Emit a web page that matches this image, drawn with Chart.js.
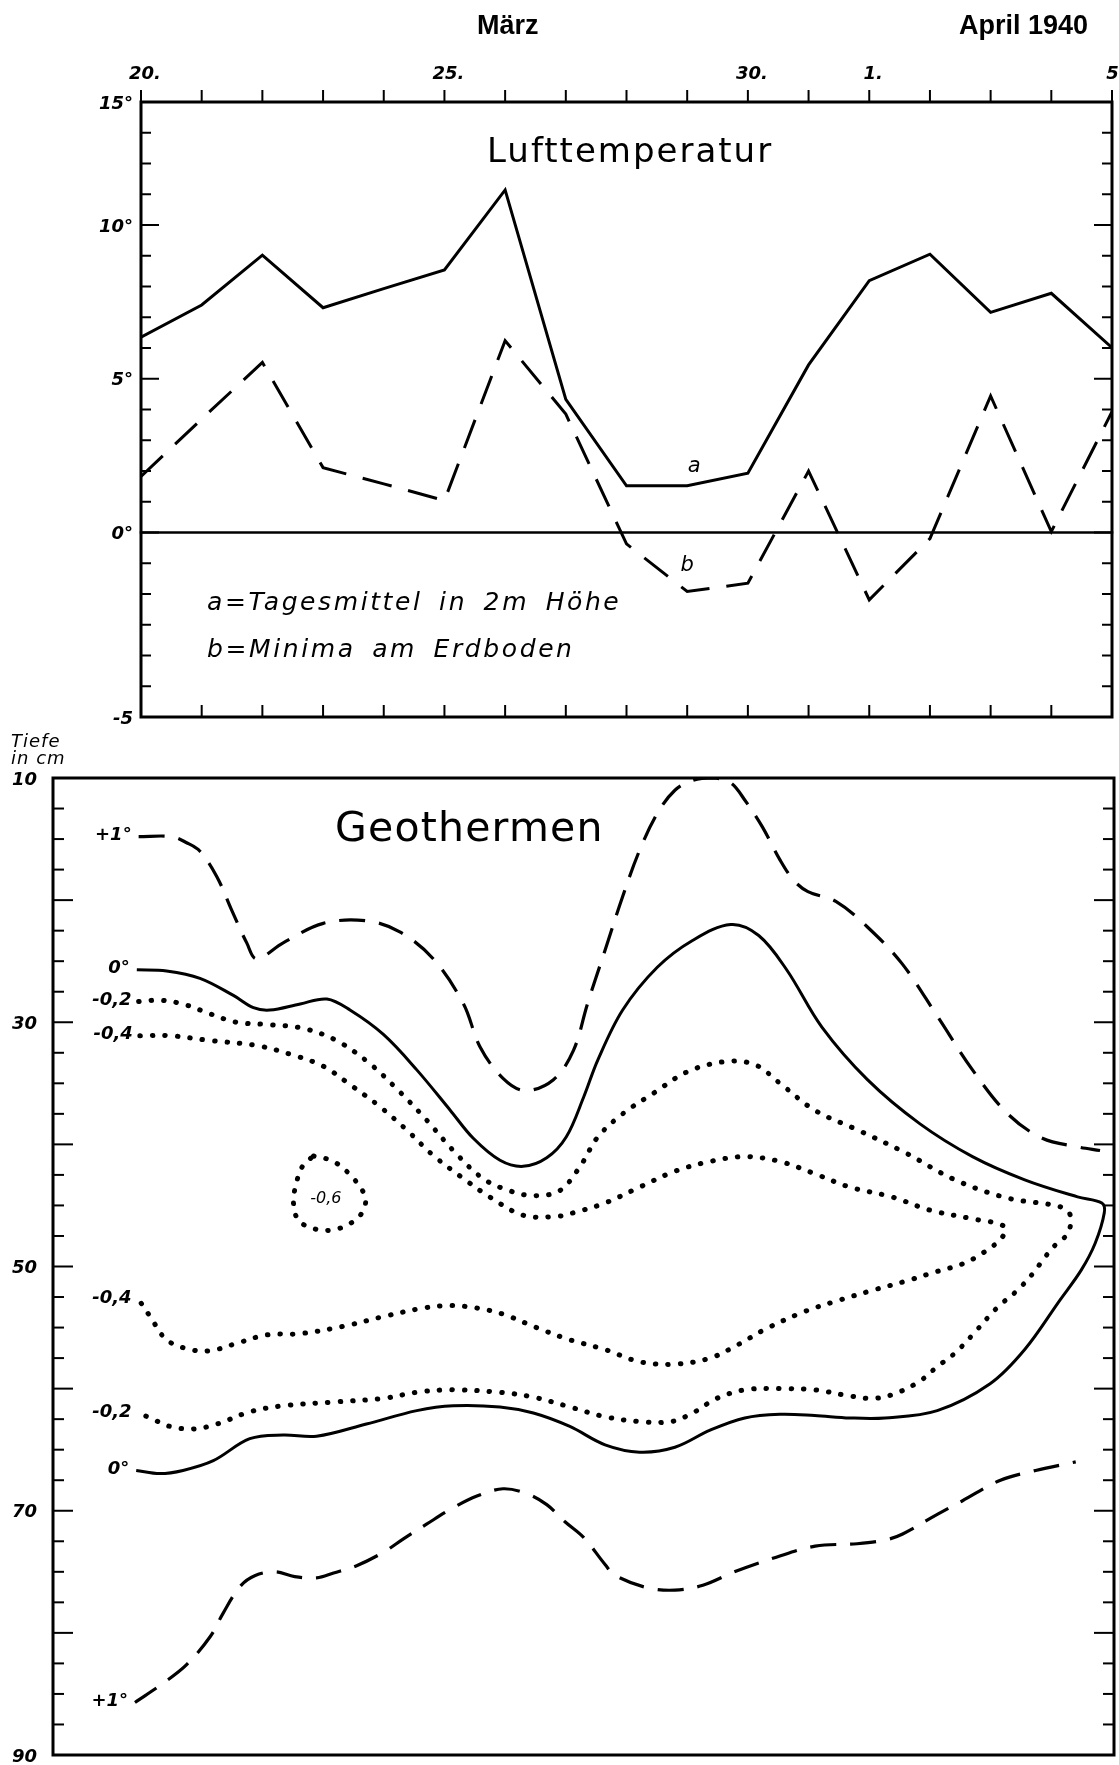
<!DOCTYPE html>
<html lang="de">
<head>
<meta charset="utf-8">
<title>Lufttemperatur und Geothermen, März/April 1940</title>
<script src="https://cdn.jsdelivr.net/npm/chart.js@4.4.1/dist/chart.umd.min.js"></script>
<style>
  html, body { margin: 0; background: #fff; }
  #page { position: relative; width: 1119px; height: 1765px; overflow: hidden; }
  canvas { position: absolute; left: 0; }
  #air { top: 0; }
  #soil { top: 730px; }
  .txt { position: absolute; white-space: nowrap; line-height: 1; color: #000;
         font-family: "DejaVu Sans", sans-serif; z-index: 2; }
  .head { font-family: "Liberation Sans", Arial, sans-serif; font-weight: bold; font-size: 27px; top: 12px; }
  .title { font-size: 34px; letter-spacing: 2px; }
  .legend { font-style: italic; font-size: 25px; letter-spacing: 2.6px; word-spacing: 6px; }
  .unit { font-style: italic; font-size: 18px; letter-spacing: 1px; }
</style>
</head>
<body>
<div id="page">
  <canvas id="air" width="1119" height="740"></canvas>
  <canvas id="soil" width="1119" height="1035"></canvas>

  <div class="txt head" style="left:477px">März</div>
  <div class="txt head" style="left:959px">April 1940</div>
  <div class="txt title" style="left:487px; top:133px">Lufttemperatur</div>
  <div class="txt legend" style="left:207px; top:589px">a=Tagesmittel in 2m Höhe</div>
  <div class="txt legend" style="left:207px; top:636px">b=Minima am Erdboden</div>
  <div class="txt unit" style="left:11px; top:732px">Tiefe</div>
  <div class="txt unit" style="left:11px; top:749px">in cm</div>
  <div class="txt title" style="left:335px; top:807px; font-size:41px; letter-spacing:1.2px">Geothermen</div>
</div>

<script>
// Tage: 20 = 20. März ... 31 = 31. März, 32 = 1. April ... 36 = 5. April
const days = [20, 21, 22, 23, 24, 25, 26, 27, 28, 29, 30, 31, 32, 33, 34, 35, 36];
const dayLabelValues = [20, 25, 30, 32, 36];
const dayLabelTexts = ['20.', '25.', '30.', '1.', '5.'];

// Lufttemperatur in °C
const tagesmittel = [6.35, 7.40, 9.02, 7.31, 7.93, 8.54, 11.14, 4.33, 1.52, 1.52, 1.93, 5.45, 8.19, 9.05, 7.16, 7.78, 6.01];
const minimaErdboden = [1.82, 3.69, 5.53, 2.11, 1.58, 1.04, 6.24, 3.85, -0.37, -1.92, -1.65, 2.0, -2.19, -0.2, 4.44, 0.03, 3.93];

const tempTicks = [-6, -5, -4, -3, -2, -1, 0, 1, 2, 3, 4, 5, 6, 7, 8, 9, 10, 11, 12, 13, 14];
const tempMajor = [0, 5, 10];
const tempLabelValues = [14, 10, 5, 0, -6];
const tempLabelTexts = ['15°', '10°', '5°', '0°', '-5'];

// Tiefe in cm
const depthTicks = [10, 12.5, 15, 17.5, 20, 22.5, 25, 27.5, 30, 32.5, 35, 37.5, 40, 42.5, 45, 47.5, 50,
  52.5, 55, 57.5, 60, 62.5, 65, 67.5, 70, 72.5, 75, 77.5, 80, 82.5, 85, 87.5, 90];
const depthMajor = [20, 30, 40, 50, 60, 70, 80];
const depthLabelValues = [10, 30, 50, 70, 90];
const depthLabelTexts = ['10', '30', '50', '70', '90'];

// Geothermen: [Tag, Tiefe]
const isoPlus1Upper = [[19.96, 14.8], [20.5, 14.8], [20.75, 15.3], [20.97, 16.0], [21.25, 18.1], [21.49, 20.8],
  [21.74, 23.5], [21.9, 24.8], [22.34, 23.5], [23.0, 21.9], [23.72, 21.7], [24.26, 22.6], [24.81, 24.8],
  [25.31, 28.5], [25.58, 32.0], [25.96, 34.6], [26.32, 35.6], [26.79, 34.7], [27.12, 32.3], [27.35, 28.5],
  [27.64, 24.1], [27.93, 19.7], [28.21, 15.9], [28.5, 12.9], [28.79, 11.0], [29.08, 10.2], [29.42, 10.0],
  [29.71, 10.4], [29.94, 11.8], [30.23, 14.0], [30.52, 16.7], [30.75, 18.4], [30.98, 19.3], [31.44, 20.1],
  [31.96, 22.2], [32.53, 25.2], [33.11, 29.5], [33.69, 33.9], [34.27, 37.5], [34.84, 39.5], [35.42, 40.2],
  [35.79, 40.5]];
const isoZero = [[19.93, 25.7], [20.42, 25.8], [20.97, 26.4], [21.52, 27.8], [21.85, 28.8], [22.12, 29.0],
  [22.62, 28.5], [23.06, 28.1], [23.44, 29.0], [23.99, 31.0], [24.54, 33.9], [25.09, 37.2], [25.47, 39.5],
  [25.91, 41.3], [26.29, 41.8], [26.68, 41.1], [27.0, 39.4], [27.29, 36.1], [27.52, 33.1], [27.93, 29.0],
  [28.5, 25.5], [29.08, 23.3], [29.71, 22.0], [30.17, 22.9], [30.63, 25.7], [31.21, 30.4], [31.96, 34.7],
  [32.82, 38.3], [33.69, 41.0], [34.55, 42.9], [35.42, 44.3], [35.82, 44.8], [35.86, 45.6], [35.71, 48.1],
  [35.48, 50.3], [35.13, 52.75], [34.55, 56.8], [33.98, 59.6], [33.11, 61.8], [32.25, 62.4], [31.67, 62.4],
  [31.09, 62.2], [30.52, 62.1], [29.94, 62.4], [29.37, 63.4], [28.79, 64.8], [28.21, 65.2], [27.64, 64.6],
  [27.06, 63.1], [26.46, 62.0], [25.91, 61.5], [25.14, 61.4], [24.54, 61.8], [23.71, 62.9], [22.89, 63.9],
  [22.34, 63.8], [21.79, 64.1], [21.19, 65.9], [20.69, 66.7], [20.31, 66.96], [19.92, 66.7]];
const isoMinus02 = [[19.96, 28.3], [20.34, 28.2], [20.75, 28.6], [21.13, 29.3], [21.57, 30.0], [22.12, 30.2],
  [22.67, 30.5], [23.22, 31.5], [23.77, 33.4], [24.26, 35.7], [24.7, 38.0], [25.14, 40.5], [25.63, 42.8],
  [26.07, 43.8], [26.46, 44.2], [26.89, 43.8], [27.23, 41.8], [27.52, 39.4], [27.93, 37.5], [28.44, 35.8],
  [29.02, 34.0], [29.66, 33.2], [30.12, 33.5], [30.52, 35.0], [31.09, 37.2], [31.79, 38.8], [32.59, 40.7],
  [33.4, 42.9], [34.27, 44.4], [35.13, 45.1], [35.3, 45.8], [35.26, 47.3], [35.08, 48.1], [34.84, 49.5],
  [34.73, 50.3], [34.44, 51.9], [34.09, 53.4], [33.69, 55.6], [33.4, 57.1], [33.11, 58.2], [32.82, 59.4],
  [32.42, 60.4], [32.07, 60.8], [31.67, 60.6], [31.09, 60.1], [30.52, 60.0], [29.94, 60.1], [29.48, 60.8],
  [29.08, 62.0], [28.73, 62.7], [28.21, 62.7], [27.64, 62.3], [27.06, 61.5], [26.46, 60.7], [25.91, 60.3],
  [25.09, 60.1], [24.54, 60.3], [23.99, 60.8], [23.17, 61.1], [22.34, 61.4], [21.79, 61.9], [21.25, 62.9],
  [20.86, 63.3], [20.48, 63.1], [20.15, 62.4], [19.96, 62.0]];
const isoMinus04 = [[19.98, 31.1], [20.48, 31.1], [21.14, 31.5], [21.9, 31.9], [22.51, 32.7], [23.0, 33.6],
  [23.44, 35.1], [23.93, 36.9], [24.37, 38.8], [24.81, 40.9], [25.31, 42.8], [25.74, 44.3], [26.29, 45.8],
  [26.84, 45.9], [27.12, 45.6], [27.64, 44.8], [28.21, 43.5], [28.79, 42.2], [29.37, 41.4], [29.94, 41.0],
  [30.52, 41.4], [31.09, 42.4], [31.67, 43.5], [32.36, 44.3], [33.0, 45.4], [33.69, 46.1], [34.21, 46.7],
  [34.18, 47.6], [33.86, 48.9], [33.52, 49.8], [33.11, 50.4], [32.59, 51.2], [32.08, 51.9], [31.5, 52.75],
  [30.92, 53.7], [30.29, 55.1], [29.83, 56.4], [29.37, 57.5], [28.79, 58.0], [28.21, 57.8], [27.64, 56.8],
  [27.06, 56.0], [26.51, 55.0], [25.96, 53.9], [25.53, 53.4], [25.09, 53.2], [24.65, 53.4], [23.99, 54.1],
  [23.33, 54.9], [22.62, 55.5], [22.07, 55.6], [21.57, 56.3], [21.14, 56.9], [20.81, 56.8], [20.42, 56.0],
  [20.15, 54.1], [19.96, 52.7]];
const isoMinus06 = [[22.84, 40.95], [23.17, 41.4], [23.5, 42.8], [23.69, 44.3], [23.66, 45.4], [23.5, 46.3],
  [23.17, 47.0], [22.84, 46.9], [22.59, 46.2], [22.51, 44.8], [22.56, 43.1], [22.67, 41.7], [22.84, 40.95]];
const isoPlus1Lower = [[19.9, 85.7], [20.37, 84.1], [20.75, 82.6], [21.14, 80.3], [21.35, 78.4], [21.63, 76.2],
  [21.88, 75.3], [22.21, 75.0], [22.53, 75.4], [22.89, 75.5], [23.17, 75.1], [23.55, 74.5], [23.99, 73.4],
  [24.32, 72.3], [24.7, 71.1], [25.09, 69.9], [25.53, 68.8], [25.96, 68.2], [26.35, 68.6], [26.68, 69.5],
  [26.98, 70.9], [27.29, 72.2], [27.64, 74.4], [27.81, 75.3], [28.33, 76.3], [28.79, 76.5], [29.25, 76.1],
  [29.77, 75.0], [30.46, 73.8], [31.1, 72.9], [31.79, 72.7], [32.25, 72.4], [32.54, 71.9], [33.11, 70.3],
  [33.52, 69.2], [34.15, 67.5], [34.73, 66.7], [35.39, 66.0]];

const ITALIC = '"DejaVu Sans", sans-serif';

// frame, inward/outward tick marks and tick labels, all placed through the chart scales
const frameAxes = {
  id: 'frameAxes',
  afterDatasetsDraw(chart, args, o) {
    const { ctx, chartArea: a, scales: { x, y } } = chart;
    const line = (x1, y1, x2, y2) => { ctx.beginPath(); ctx.moveTo(x1, y1); ctx.lineTo(x2, y2); ctx.stroke(); };
    ctx.save();
    ctx.strokeStyle = '#000';
    ctx.fillStyle = '#000';
    ctx.lineCap = 'square';

    if (o.zeroLine) {
      ctx.lineWidth = 2.5;
      const py = y.getPixelForValue(0);
      line(a.left, py, a.right, py);
    }

    ctx.lineWidth = 3;
    ctx.strokeRect(a.left, a.top, a.right - a.left, a.bottom - a.top);

    ctx.lineWidth = 2;
    ctx.lineCap = 'butt';
    (o.xTicks || []).forEach(v => {
      const px = x.getPixelForValue(v);
      line(px, a.top, px, a.top - 12);
      line(px, a.bottom, px, a.bottom - 12);
    });
    (o.yTicks || []).forEach(v => {
      const py = y.getPixelForValue(v);
      const len = o.yMajor.includes(v) ? o.majorLen : o.minorLen;
      line(a.left, py, a.left + len, py);
      line(a.right, py, a.right - len, py);
    });

    if (o.xLabels) {
      ctx.font = 'italic bold 18px ' + ITALIC;
      ctx.textAlign = 'center';
      ctx.textBaseline = 'alphabetic';
      o.xLabels.values.forEach((v, i) => ctx.fillText(o.xLabels.texts[i], x.getPixelForValue(v) + 4, a.top - 23));
    }
    if (o.yLabels) {
      ctx.font = 'italic bold 18px ' + ITALIC;
      ctx.textAlign = 'right';
      ctx.textBaseline = 'middle';
      o.yLabels.values.forEach((v, i) =>
        ctx.fillText(o.yLabels.texts[i], a.left - o.yLabels.gap, y.getPixelForValue(v) + 2));
    }
    ctx.restore();
  }
};

// curve names written next to the lines
const curveTags = {
  id: 'curveTags',
  afterDatasetsDraw(chart) {
    const ctx = chart.ctx;
    chart.data.datasets.forEach((ds, i) => {
      const tag = ds.tag;
      if (!tag) return;
      const pts = chart.getDatasetMeta(i).data;
      ctx.save();
      ctx.fillStyle = '#000';
      ctx.font = tag.font;
      ctx.textBaseline = 'middle';
      if (tag.at === 'ends' || tag.at === 'start') {
        ctx.textAlign = 'right';
        const ends = tag.at === 'ends' ? [pts[0], pts[pts.length - 1]] : [pts[0]];
        ends.forEach(p => ctx.fillText(tag.text, p.x - 7, p.y - 1));
      } else if (tag.at === 'center') {
        const cx = pts.reduce((s, p) => s + p.x, 0) / pts.length;
        const cy = pts.reduce((s, p) => s + p.y, 0) / pts.length;
        ctx.textAlign = 'center';
        ctx.fillText(tag.text, cx, cy + 6);
      } else {
        const p = pts[tag.at];
        ctx.textAlign = 'center';
        ctx.fillText(tag.text, p.x + tag.dx, p.y + tag.dy);
      }
      ctx.restore();
    });
  }
};

const toXY = pts => pts.map(([x, y]) => ({ x, y }));
const series = vals => days.map((d, i) => ({ x: d, y: vals[i] }));

const baseOptions = {
  responsive: false,
  animation: false,
  events: [],
  plugins: { legend: { display: false }, tooltip: { enabled: false } },
  elements: { point: { radius: 0 } }
};

new Chart(document.getElementById('air'), {
  type: 'line',
  data: {
    datasets: [
      { label: 'a', data: series(tagesmittel), borderColor: '#000', borderWidth: 3, tension: 0,
        tag: { text: 'a', at: 9, dx: 7, dy: -19, font: 'italic 21px ' + ITALIC } },
      { label: 'b', data: series(minimaErdboden), borderColor: '#000', borderWidth: 3, tension: 0,
        borderDash: [30, 17],
        tag: { text: 'b', at: 9, dx: 0, dy: -26, font: 'italic 21px ' + ITALIC } }
    ]
  },
  options: {
    ...baseOptions,
    layout: { padding: { left: 141, top: 102, right: 7, bottom: 23 } },
    scales: {
      x: { type: 'linear', min: 20, max: 36, display: false },
      y: { type: 'linear', min: -6, max: 14, display: false }
    },
    plugins: {
      ...baseOptions.plugins,
      frameAxes: {
        zeroLine: true,
        xTicks: days,
        yTicks: tempTicks, yMajor: tempMajor, minorLen: 10, majorLen: 18,
        xLabels: { values: dayLabelValues, texts: dayLabelTexts },
        yLabels: { values: tempLabelValues, texts: tempLabelTexts, gap: 8 }
      }
    }
  },
  plugins: [frameAxes, curveTags]
});

const dashed = { borderDash: [26, 14], borderWidth: 3.2 };
const dotted = { borderDash: [0.5, 12], borderWidth: 5, borderCapStyle: 'round' };
const iso = (label, pts, style, tag) => ({
  label, data: toXY(pts), borderColor: '#000', tension: 0.35, ...style,
  tag: { text: tag.text, at: tag.at, font: tag.font || 'italic bold 18px ' + ITALIC }
});

new Chart(document.getElementById('soil'), {
  type: 'line',
  data: {
    datasets: [
      iso('+1°', isoPlus1Upper, dashed, { text: '+1°', at: 'start' }),
      iso('0°', isoZero, { borderWidth: 3 }, { text: '0°', at: 'ends' }),
      iso('-0,2', isoMinus02, dotted, { text: '-0,2', at: 'ends' }),
      iso('-0,4', isoMinus04, dotted, { text: '-0,4', at: 'ends' }),
      iso('-0,6', isoMinus06, dotted, { text: '-0,6', at: 'center', font: 'italic 16px ' + ITALIC }),
      iso('+1°', isoPlus1Lower, dashed, { text: '+1°', at: 'start' })
    ]
  },
  options: {
    ...baseOptions,
    layout: { padding: { left: 53, top: 48, right: 5, bottom: 10 } },
    scales: {
      x: { type: 'linear', min: 18.55, max: 36.02, display: false },
      y: { type: 'linear', min: 10, max: 90, reverse: true, display: false }
    },
    plugins: {
      ...baseOptions.plugins,
      frameAxes: {
        yTicks: depthTicks, yMajor: depthMajor, minorLen: 11, majorLen: 20,
        yLabels: { values: depthLabelValues, texts: depthLabelTexts, gap: 16 }
      }
    }
  },
  plugins: [frameAxes, curveTags]
});
</script>
</body>
</html>
